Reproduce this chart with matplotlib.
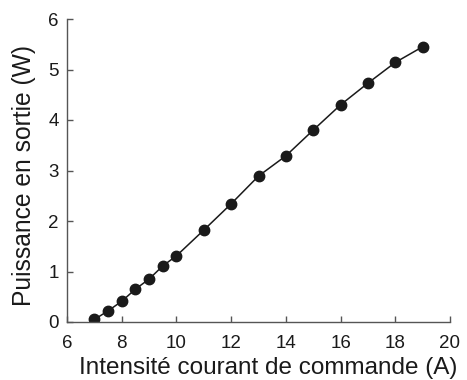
import matplotlib
matplotlib.use("Agg")
import matplotlib.pyplot as plt

plt.rcParams['font.family'] = ['Liberation Sans', 'DejaVu Sans']

courant = [7, 7.5, 8, 8.5, 9, 9.5, 10, 11, 12, 13, 14, 15, 16, 17, 18, 19]
puissance = [0.05, 0.22, 0.41, 0.65, 0.85, 1.11, 1.31, 1.82, 2.34, 2.89,
             3.29, 3.80, 4.30, 4.73, 5.14, 5.45]
xticks = [6, 8, 10, 12, 14, 16, 18, 20]
yticks = [0, 1, 2, 3, 4, 5, 6]

W, H = 467, 380
fig = plt.figure(figsize=(W / 100, H / 100), dpi=100)
x0, x1, y0, y1 = 67, 450, 19, 322
ax = fig.add_axes([x0 / W, 1 - y1 / H, (x1 - x0) / W, (y1 - y0) / H])

ax.plot(courant, puissance, color='#1a1a1a', linewidth=1.1, marker='o',
        markersize=7.5, markerfacecolor='#1a1a1a', markeredgecolor='#1a1a1a')

ax.set_xlim(6, 20)
ax.set_ylim(0, 6)
ax.set_xticks(xticks)
ax.set_yticks(yticks)
for s in ['top', 'right']:
    ax.spines[s].set_visible(False)
for s in ['left', 'bottom']:
    ax.spines[s].set_color('#555555')
    ax.spines[s].set_linewidth(1.0)
ax.tick_params(direction='in', length=4, width=1.0, color='#555555',
               labelsize=13.5, labelcolor='#1a1a1a')
ax.tick_params(axis='x', pad=9)
ax.tick_params(axis='y', pad=6)

ax.set_xlabel('Intensité courant de commande (A)', fontsize=17.5,
              color='#1a1a1a')
ax.set_ylabel('Puissance en sortie (W)', fontsize=17.7, color='#1a1a1a')
ax.xaxis.set_label_coords((268 - x0) / (x1 - x0), -(374 - y1) / (y1 - y0),
                          transform=ax.transAxes)
ax.xaxis.label.set_va('baseline')
ax.yaxis.label.set_va('top')
ax.yaxis.set_label_coords(-(x0 - 12) / (x1 - x0), (y1 - 176) / (y1 - y0),
                          transform=ax.transAxes)

fig.savefig('out.png', dpi=100)
